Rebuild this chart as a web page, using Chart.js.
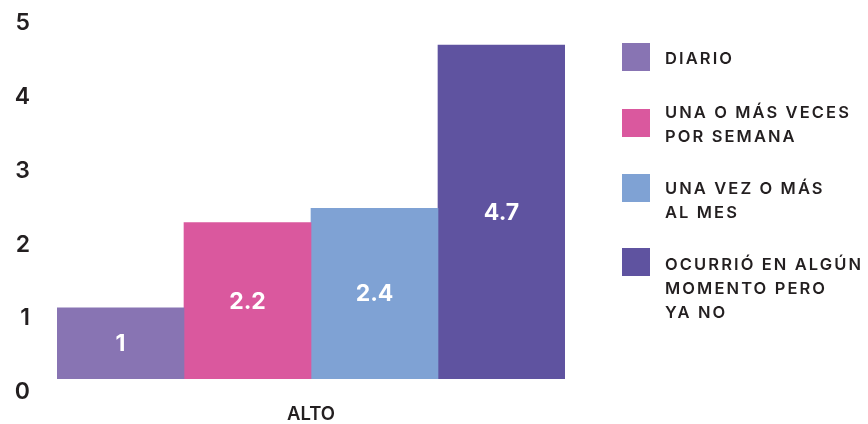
<!DOCTYPE html>
<html>
<head>
<meta charset="utf-8">
<script src="https://cdn.jsdelivr.net/npm/chart.js@4.4.1/dist/chart.umd.min.js"></script>
<style>
    body { margin: 0; background: #fff; }
    #wrap { position: relative; width: 868px; height: 424px; }
    #legend { position: absolute; left: 0; top: 0; font-family: Inter, sans-serif; font-weight: 600; color: #231f20; }
    .box { position: absolute; left: 622px; width: 28px; height: 28px; }
    .txt { position: absolute; left: 665px; font-size: 16.5px; letter-spacing: 2.1px; white-space: nowrap; line-height: 24px; }
</style>
</head>
<body>
<div id="wrap">
    <canvas id="chart" width="868" height="424"></canvas>
    <div id="legend"></div>
</div>
<script>
const categories = ['ALTO'];
const seriesNames = [
    ['DIARIO'],
    ['UNA O MÁS VECES', 'POR SEMANA'],
    ['UNA VEZ O MÁS', 'AL MES'],
    ['OCURRIÓ EN ALGÚN', 'MOMENTO PERO', 'YA NO']
];
const seriesValues = [1, 2.2, 2.4, 4.7];
const yTicks = [0, 1, 2, 3, 4, 5];

const colors = ['#8874b3', '#da589e', '#7fa2d4', '#5f53a0'];
const fontFamily = 'Inter, sans-serif';

// legend box tops and text block tops (px)
const legendBoxTop = [43, 109, 174, 248];
const legendTextTop = [46, 100, 176, 252];

document.addEventListener('DOMContentLoaded', () => {
    renderLegend();
    renderChart();
});

function renderLegend() {
    const legend = document.getElementById('legend');
    seriesNames.forEach((lines, i) => {
        const box = document.createElement('div');
        box.className = 'box';
        box.style.top = legendBoxTop[i] + 'px';
        box.style.background = colors[i];
        legend.appendChild(box);

        const txt = document.createElement('div');
        txt.className = 'txt';
        txt.style.top = legendTextTop[i] + 'px';
        txt.innerHTML = lines.join('<br>');
        legend.appendChild(txt);
    });
}

const valueLabels = {
    id: 'valueLabels',
    afterDatasetsDraw(chart) {
        const ctx = chart.ctx;
        ctx.save();
        ctx.fillStyle = '#ffffff';
        ctx.font = '700 23px ' + fontFamily;
        ctx.textAlign = 'center';
        ctx.textBaseline = 'middle';
        chart.data.datasets.forEach((ds, i) => {
            const bar = chart.getDatasetMeta(i).data[0];
            const y = (bar.y + bar.base) / 2;
            ctx.fillText(String(ds.data[0]), bar.x, y + 1);
        });
        ctx.restore();
    }
};

function noPad(axis) {
    axis.paddingTop = 0;
    axis.paddingBottom = 0;
    axis.paddingLeft = 0;
    axis.paddingRight = 0;
}

function renderChart() {
    const ctx = document.getElementById('chart').getContext('2d');
    new Chart(ctx, {
        type: 'bar',
        data: {
            labels: categories,
            datasets: seriesNames.map((lines, i) => ({
                label: lines.join(' '),
                data: [seriesValues[i]],
                backgroundColor: colors[i],
                borderWidth: 0,
                barPercentage: 1,
                categoryPercentage: 1,
                yAxisID: 'y'
            }))
        },
        options: {
            responsive: false,
            animation: false,
            layout: { padding: { top: 15, right: 303, left: 0, bottom: 0 } },
            plugins: {
                legend: { display: false },
                tooltip: { enabled: false }
            },
            scales: {
                x: {
                    grid: { display: false, drawTicks: false },
                    border: { display: false },
                    ticks: {
                        padding: 3,
                        color: '#231f20',
                        font: { family: fontFamily, size: 18.5, weight: '600' }
                    },
                    afterFit: (axis) => { axis.height = 24; noPad(axis); }
                },
                y: {
                    display: false,
                    min: -0.3,
                    max: 5.123
                },
                yLabels: {
                    position: 'left',
                    min: -0.1085,
                    max: 5.115,
                    grid: { display: false, drawTicks: false },
                    border: { display: false },
                    afterBuildTicks: (axis) => { axis.ticks = yTicks.map(v => ({ value: v })); },
                    ticks: {
                        padding: 27,
                        color: '#231f20',
                        font: { family: fontFamily, size: 23, weight: '600' }
                    },
                    afterFit: (axis) => { axis.width = 57; noPad(axis); }
                }
            }
        },
        plugins: [valueLabels]
    });
}
</script>
</body>
</html>
